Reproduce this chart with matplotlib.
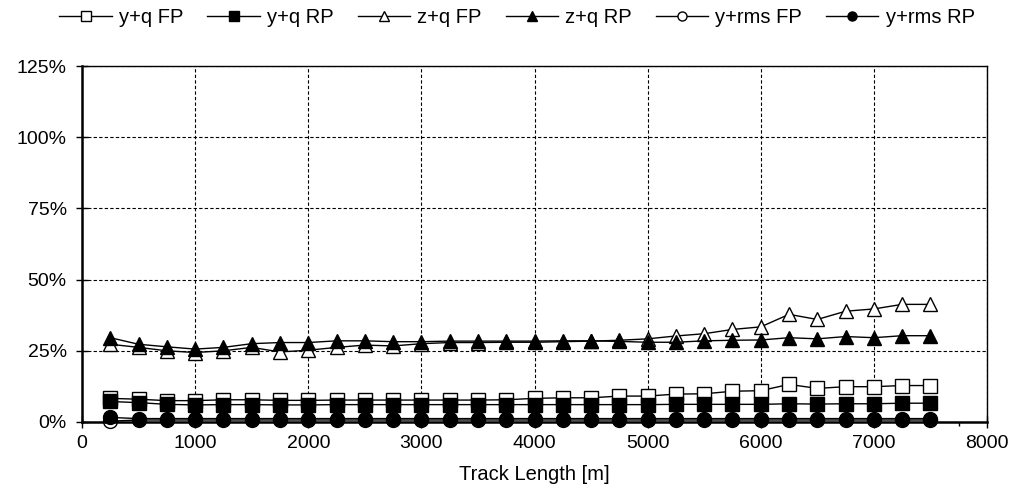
import matplotlib
matplotlib.use("Agg")
import matplotlib.pyplot as plt
from matplotlib.ticker import FuncFormatter, MultipleLocator

plt.rcParams['font.family'] = ['Liberation Sans', 'DejaVu Sans']

track_length = [250, 500, 750, 1000, 1250, 1500, 1750, 2000, 2250, 2500,
                2750, 3000, 3250, 3500, 3750, 4000, 4250, 4500, 4750, 5000,
                5250, 5500, 5750, 6000, 6250, 6500, 6750, 7000, 7250, 7500]

yq_fp = [8.3, 8.0, 7.5, 7.5, 7.8, 7.8, 7.6, 7.6, 7.7, 7.7,
         7.7, 7.7, 7.7, 7.7, 7.8, 8.3, 8.5, 8.5, 9.1, 9.1,
         9.8, 9.9, 10.8, 11.0, 13.2, 11.8, 12.4, 12.4, 12.8, 12.8]
yq_rp = [7.2, 6.8, 6.2, 6.0, 6.1, 6.1, 6.0, 6.0, 6.1, 6.1,
         6.1, 6.1, 6.1, 6.1, 6.1, 6.1, 6.1, 6.1, 6.1, 6.1,
         6.2, 6.2, 6.2, 6.2, 6.4, 6.3, 6.4, 6.4, 6.6, 6.6]
zq_fp = [27.3, 26.2, 25.0, 24.4, 25.0, 26.2, 24.6, 25.2, 26.2, 27.0,
         26.7, 27.5, 27.9, 27.9, 28.0, 28.0, 28.2, 28.4, 28.7, 29.2,
         30.2, 31.0, 32.5, 33.4, 37.8, 36.0, 38.9, 39.7, 41.3, 41.3]
zq_rp = [29.6, 27.3, 26.4, 25.6, 26.2, 27.5, 27.9, 27.9, 28.5, 28.5,
         28.2, 28.2, 28.4, 28.4, 28.4, 28.4, 28.5, 28.5, 28.3, 28.0,
         28.0, 28.5, 28.7, 28.8, 29.6, 29.2, 30.0, 29.6, 30.3, 30.3]
yrms_fp = [0.3, 0.7, 0.7, 0.7, 0.7, 0.7, 0.7, 0.7, 0.7, 0.7,
           0.7, 0.7, 0.7, 0.7, 0.7, 0.7, 0.7, 0.7, 0.7, 0.7,
           0.7, 0.7, 0.7, 0.7, 0.7, 0.7, 0.7, 0.7, 0.7, 0.7]
yrms_rp = [1.6, 1.2, 1.2, 1.2, 1.2, 1.2, 1.2, 1.2, 1.2, 1.2,
           1.2, 1.2, 1.2, 1.2, 1.2, 1.2, 1.2, 1.2, 1.2, 1.2,
           1.2, 1.2, 1.2, 1.2, 1.2, 1.2, 1.2, 1.2, 1.2, 1.2]

series = [
    ("y+q FP", yq_fp, 's', 'white'),
    ("y+q RP", yq_rp, 's', 'black'),
    ("z+q FP", zq_fp, '^', 'white'),
    ("z+q RP", zq_rp, '^', 'black'),
    ("y+rms FP", yrms_fp, 'o', 'white'),
    ("y+rms RP", yrms_rp, 'o', 'black'),
]

fig = plt.figure(figsize=(10.15, 4.94), dpi=100)
ax = fig.add_axes([82/1015, 1 - 422/494, (987-82)/1015, (422-66)/494])

handles = []
for label, vals, mk, fc in series:
    h, = ax.plot(track_length, vals, color='black', lw=1.0, marker=mk,
                 markersize=10, markerfacecolor=fc, markeredgecolor='black',
                 markeredgewidth=1.0, label=label, clip_on=False)
    handles.append(h)

ax.set_xlim(0, 8000)
ax.set_ylim(0, 125)
ax.xaxis.set_major_locator(MultipleLocator(1000))
ax.xaxis.set_minor_locator(MultipleLocator(250))
ax.yaxis.set_major_locator(MultipleLocator(25))
ax.yaxis.set_major_formatter(FuncFormatter(lambda v, p: f"{int(round(v))}%"))
ax.grid(True, which='major', color='black', linestyle=(0, (3, 2)), linewidth=0.8)
ax.set_axisbelow(True)
for s in ['top', 'right']:
    ax.spines[s].set_linewidth(1.0)
for s in ['left', 'bottom']:
    ax.spines[s].set_linewidth(1.8)
ax.tick_params(axis='y', which='major', direction='inout', length=8, width=1.0,
               labelsize=14, colors='black', pad=7)
ax.tick_params(axis='x', which='major', direction='inout', length=8, width=1.0,
               labelsize=14, colors='black', pad=5)
ax.tick_params(axis='x', which='minor', direction='out', length=3, width=1.0)
ax.set_xlabel("Track Length [m]", fontsize=14.5, labelpad=10)

leg = fig.legend(handles=handles, loc='upper center', ncol=6, frameon=False,
                 bbox_to_anchor=(517/1015, 1.02), fontsize=14.5, handlelength=2.6,
                 columnspacing=1.2, handletextpad=0.35, markerscale=0.65)

fig.savefig("out.png", dpi=100)
